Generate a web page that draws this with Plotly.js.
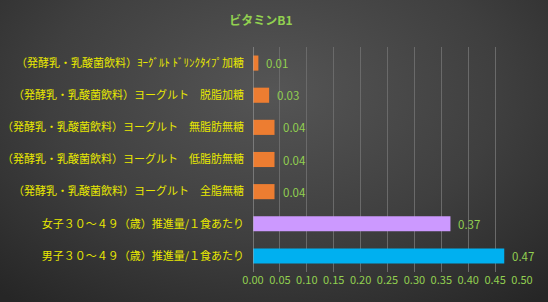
<!DOCTYPE html>
<html>
<head>
<meta charset="utf-8">
<script src="https://cdn.plot.ly/plotly-3.0.1.min.js"></script>
<style>
html,body{margin:0;padding:0;}
body{width:548px;height:302px;background:radial-gradient(ellipse 75% 90% at 50% 30%, #555555 0%, #3f3f3f 55%, #262626 100%);}
#chart{width:548px;height:302px;}
</style>
</head>
<body>
<div id="chart"></div>
<script>
const categories = [
  "（発酵乳・乳酸菌飲料）ﾖｰｸﾞﾙﾄ ﾄﾞﾘﾝｸﾀｲﾌﾟ加糖",
  "（発酵乳・乳酸菌飲料）ヨーグルト　脱脂加糖",
  "（発酵乳・乳酸菌飲料）ヨーグルト　無脂肪無糖",
  "（発酵乳・乳酸菌飲料）ヨーグルト　低脂肪無糖",
  "（発酵乳・乳酸菌飲料）ヨーグルト　全脂無糖",
  "女子３０～４９（歳）推進量/１食あたり",
  "男子３０～４９（歳）推進量/１食あたり"
];
const values = [0.01, 0.03, 0.04, 0.04, 0.04, 0.367, 0.467];
const barColors = ["#ED7D31", "#ED7D31", "#ED7D31", "#ED7D31", "#ED7D31", "#CC99FF", "#00B0F0"];
const tickValues = [0, 0.05, 0.1, 0.15, 0.2, 0.25, 0.3, 0.35, 0.4, 0.45, 0.5];
const title = "ビタミンB1";

const font = "'Noto Sans CJK JP', 'Noto Sans', sans-serif";

const labels = values.map((v, i) => ({
  x: v, y: categories[i], xref: "x", yref: "y",
  text: v.toFixed(2), showarrow: false, xanchor: "left", yanchor: "middle", xshift: 6,
  font: {color: "#92D050", size: 11.5, family: font}
}));

Plotly.newPlot("chart", [{
  type: "bar",
  orientation: "h",
  y: categories,
  x: values,
  marker: {color: barColors, line: {width: 0}},
  hoverinfo: "none"
}], {
  width: 548, height: 302,
  paper_bgcolor: "rgba(0,0,0,0)",
  plot_bgcolor: "rgba(0,0,0,0)",
  margin: {l: 253, r: 26, t: 47, b: 30},
  bargap: 0.53,
  showlegend: false,
  title: {text: "<b>" + title + "</b>", x: 0.476, xanchor: "center", y: 0.93, yanchor: "middle",
          font: {color: "#92D050", size: 12, family: font}},
  xaxis: {
    range: [0, 0.5], tickvals: tickValues, ticktext: tickValues.map(v => v.toFixed(2)),
    showgrid: true, gridcolor: "#6a6a6a", gridwidth: 1,
    zeroline: false, showline: false, ticks: "",
    tickfont: {color: "#92D050", size: 11, family: font}
  },
  yaxis: {
    autorange: "reversed", type: "category",
    showgrid: false, zeroline: false, showline: false, ticks: "",
    ticklabelstandoff: 8,
    tickfont: {color: "#E8E800", size: 11, family: font}
  },
  annotations: labels,
  shapes: [{type: "line", xref: "x", yref: "paper", x0: 0, x1: 0, y0: 0, y1: 1,
            line: {color: "#a8a8a8", width: 1}}]
}, {staticPlot: true});
</script>
</body>
</html>
